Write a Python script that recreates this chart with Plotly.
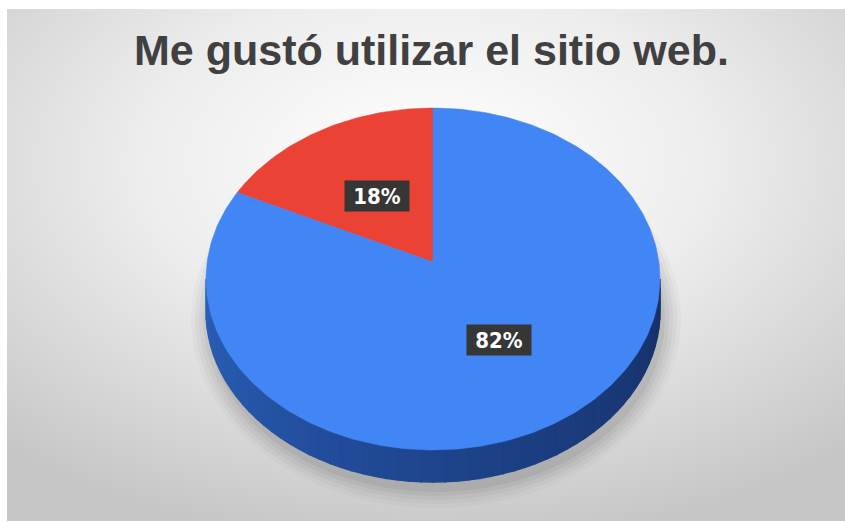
import math
import base64
import plotly.graph_objects as go

# ---- data ----
categories = ["No", "Sí"]
values = [18, 82]
slice_colors = ["#EA4335", "#4285F4"]
title_text = "Me gustó utilizar el sitio web."

W, H = 845, 523
# pie geometry (pixel-like data units; y axis reversed)
CX, CY = 433, 279      # centre of the top-face ellipse
AX, AY = 433, 262      # projected pie centre (apex)
RX, RY = 227, 171
DEPTH = 32

total = sum(values)
K = (AY - CY) / RY


def rim_point(theta_deg, frac=1.0):
    """point on top rim at angle theta (ccw from 12 o'clock), via ray from apex"""
    th = math.radians(theta_deg)
    dx, dy = -math.sin(th), -math.cos(th)
    t = -dy * K + math.sqrt(dy * dy * K * K - K * K + 1)
    t *= frac
    return AX + t * dx * RX, AY + t * dy * RY


fig = go.Figure()

# soft shadow under the pie
for e, a in [(18, 0.03), (14, 0.04), (10, 0.05), (6, 0.06), (2, 0.08)]:
    xs, ys = [], []
    for i in range(121):
        p = 2 * math.pi * i / 120
        xs.append(CX + 3 + (RX + e) * math.cos(p))
        ys.append(CY + DEPTH + 8 + (RY + e) * math.sin(p))
    fig.add_trace(go.Scatter(x=xs, y=ys, fill="toself", mode="lines",
                             line=dict(width=0), fillcolor=f"rgba(60,60,60,{a})",
                             hoverinfo="skip", showlegend=False))


def lerp_col(c1, c2, f):
    return "rgb(%d,%d,%d)" % tuple(round(c1[i] + (c2[i] - c1[i]) * f) for i in range(3))


# side band (front of the pie, blue slice)
N = 60
c_left, c_mid, c_right = (42, 96, 184), (30, 68, 140), (22, 48, 102)
for i in range(N):
    p0 = math.pi - math.pi * i / N
    p1 = math.pi - math.pi * (i + 1) / N
    pts = []
    for k in range(5):
        p = p0 + (p1 - p0) * k / 4
        pts.append((CX + RX * math.cos(p), CY + RY * math.sin(p)))
    xs = [q[0] for q in pts] + [q[0] for q in reversed(pts)] + [pts[0][0]]
    ys = [q[1] for q in pts] + [q[1] + DEPTH for q in reversed(pts)] + [pts[0][1]]
    f = i / N
    col = lerp_col(c_left, c_mid, f * 2) if f < 0.5 else lerp_col(c_mid, c_right, (f - 0.5) * 2)
    fig.add_trace(go.Scatter(x=xs, y=ys, fill="toself", mode="lines",
                             line=dict(width=1.5, color=col), fillcolor=col,
                             hoverinfo="skip", showlegend=False))

# top face wedges
start = 0.0
mids = []
for cat, v, col in zip(categories, values, slice_colors):
    sweep = 360.0 * v / total
    n = max(4, int(sweep))
    xs, ys = [AX], [AY]
    for i in range(n + 1):
        px, py = rim_point(start + sweep * i / n)
        xs.append(px)
        ys.append(py)
    xs.append(AX)
    ys.append(AY)
    fig.add_trace(go.Scatter(x=xs, y=ys, fill="toself", mode="lines",
                             line=dict(width=0.5, color=col), fillcolor=col,
                             name=cat, hoverinfo="name", showlegend=False))
    mids.append((start + sweep / 2, v))
    start += sweep

# data labels
for ang, v in mids:
    lx, ly = rim_point(ang, 0.5)
    fig.add_annotation(x=lx, y=ly, xref="x", yref="y", showarrow=False,
                       text=f"<b>{v}%</b>",
                       font=dict(family="DejaVu Sans Condensed, Liberation Sans Narrow, Roboto, sans-serif",
                                 size=22, color="white"),
                       bgcolor="#363636", borderpad=3, width=58, height=24)

# title
fig.add_annotation(x=431, y=50, xref="x", yref="y", showarrow=False,
                   text=f"<b>{title_text}</b>",
                   font=dict(family="Liberation Sans, Arial, sans-serif", size=43, color="#404040"))

# background gradient (radial) as an inline SVG image
svg = ('<svg xmlns="http://www.w3.org/2000/svg" width="838" height="512">'
       '<defs><radialGradient id="g" cx="50%" cy="30%" r="75%">'
       '<stop offset="0" stop-color="#ffffff"/>'
       '<stop offset="0.45" stop-color="#ededed"/>'
       '<stop offset="1" stop-color="#c6c6c6"/>'
       '</radialGradient></defs>'
       '<rect width="838" height="512" fill="url(#g)"/></svg>')
src = "data:image/svg+xml;base64," + base64.b64encode(svg.encode()).decode()
fig.add_layout_image(dict(source=src, xref="paper", yref="paper",
                          x=7 / W, y=1 - 9 / H, sizex=838 / W, sizey=512 / H,
                          xanchor="left", yanchor="top", sizing="stretch",
                          layer="below"))

fig.update_layout(
    width=W, height=H, autosize=False,
    margin=dict(l=0, r=0, t=0, b=0),
    paper_bgcolor="white", plot_bgcolor="rgba(0,0,0,0)",
    xaxis=dict(range=[0, W], visible=False, fixedrange=True),
    yaxis=dict(range=[H, 0], visible=False, fixedrange=True),
    showlegend=False,
)

fig.write_html("out.html")
